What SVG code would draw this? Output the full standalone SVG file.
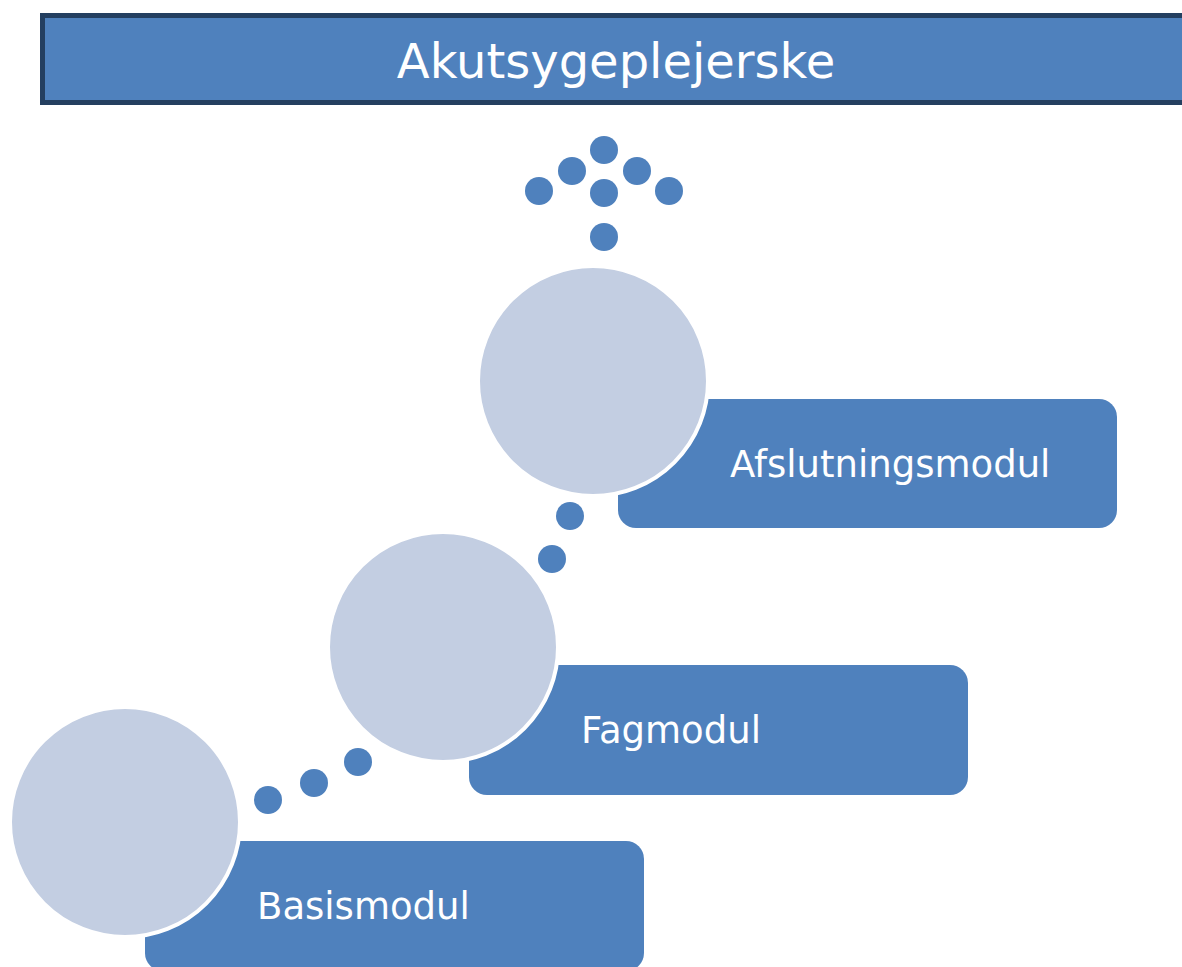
<svg xmlns="http://www.w3.org/2000/svg" width="1182" height="967" viewBox="0 0 1182 967">
<style>
.box{fill:#4F81BD;}
.circ{fill:#C3CEE2;stroke:#FFFFFF;stroke-width:4;}
.dot{fill:#4F81BD;}
.lbl{font-family:"DejaVu Sans",Verdana,sans-serif;font-size:37px;fill:#FFFFFF;}
</style>
<rect width="1182" height="967" fill="#FFFFFF"/>
<g id="title">
<rect x="42.5" y="15.5" width="1160" height="87" fill="#4F81BD" stroke="#243F60" stroke-width="5"/>
<text x="616" y="78" text-anchor="middle" font-family="DejaVu Sans, Verdana, sans-serif" font-size="48" fill="#FFFFFF">Akutsygeplejerske</text>
</g>
<g id="connectors">
<circle class="dot" cx="604" cy="150" r="14"/>
<circle class="dot" cx="572" cy="171" r="14"/>
<circle class="dot" cx="637" cy="171" r="14"/>
<circle class="dot" cx="539" cy="191" r="14"/>
<circle class="dot" cx="604" cy="193" r="14"/>
<circle class="dot" cx="669" cy="191" r="14"/>
<circle class="dot" cx="604" cy="237" r="14"/>
<circle class="dot" cx="570" cy="516" r="14"/>
<circle class="dot" cx="552" cy="559" r="14"/>
<circle class="dot" cx="268" cy="800" r="14"/>
<circle class="dot" cx="314" cy="783" r="14"/>
<circle class="dot" cx="358" cy="762" r="14"/>
</g>
<g id="basismodul">
<rect class="box" x="145" y="841" width="499" height="130" rx="18"/>
<circle class="circ" cx="125" cy="822" r="115"/>
<text class="lbl" x="257" y="919">Basismodul</text>
</g>
<g id="fagmodul">
<rect class="box" x="469" y="665" width="499" height="130" rx="18"/>
<circle class="circ" cx="443" cy="647" r="115"/>
<text class="lbl" x="581" y="743">Fagmodul</text>
</g>
<g id="afslutningsmodul">
<rect class="box" x="618" y="399" width="499" height="129" rx="18"/>
<circle class="circ" cx="593" cy="381" r="115"/>
<text class="lbl" x="730" y="477">Afslutningsmodul</text>
</g>
</svg>
